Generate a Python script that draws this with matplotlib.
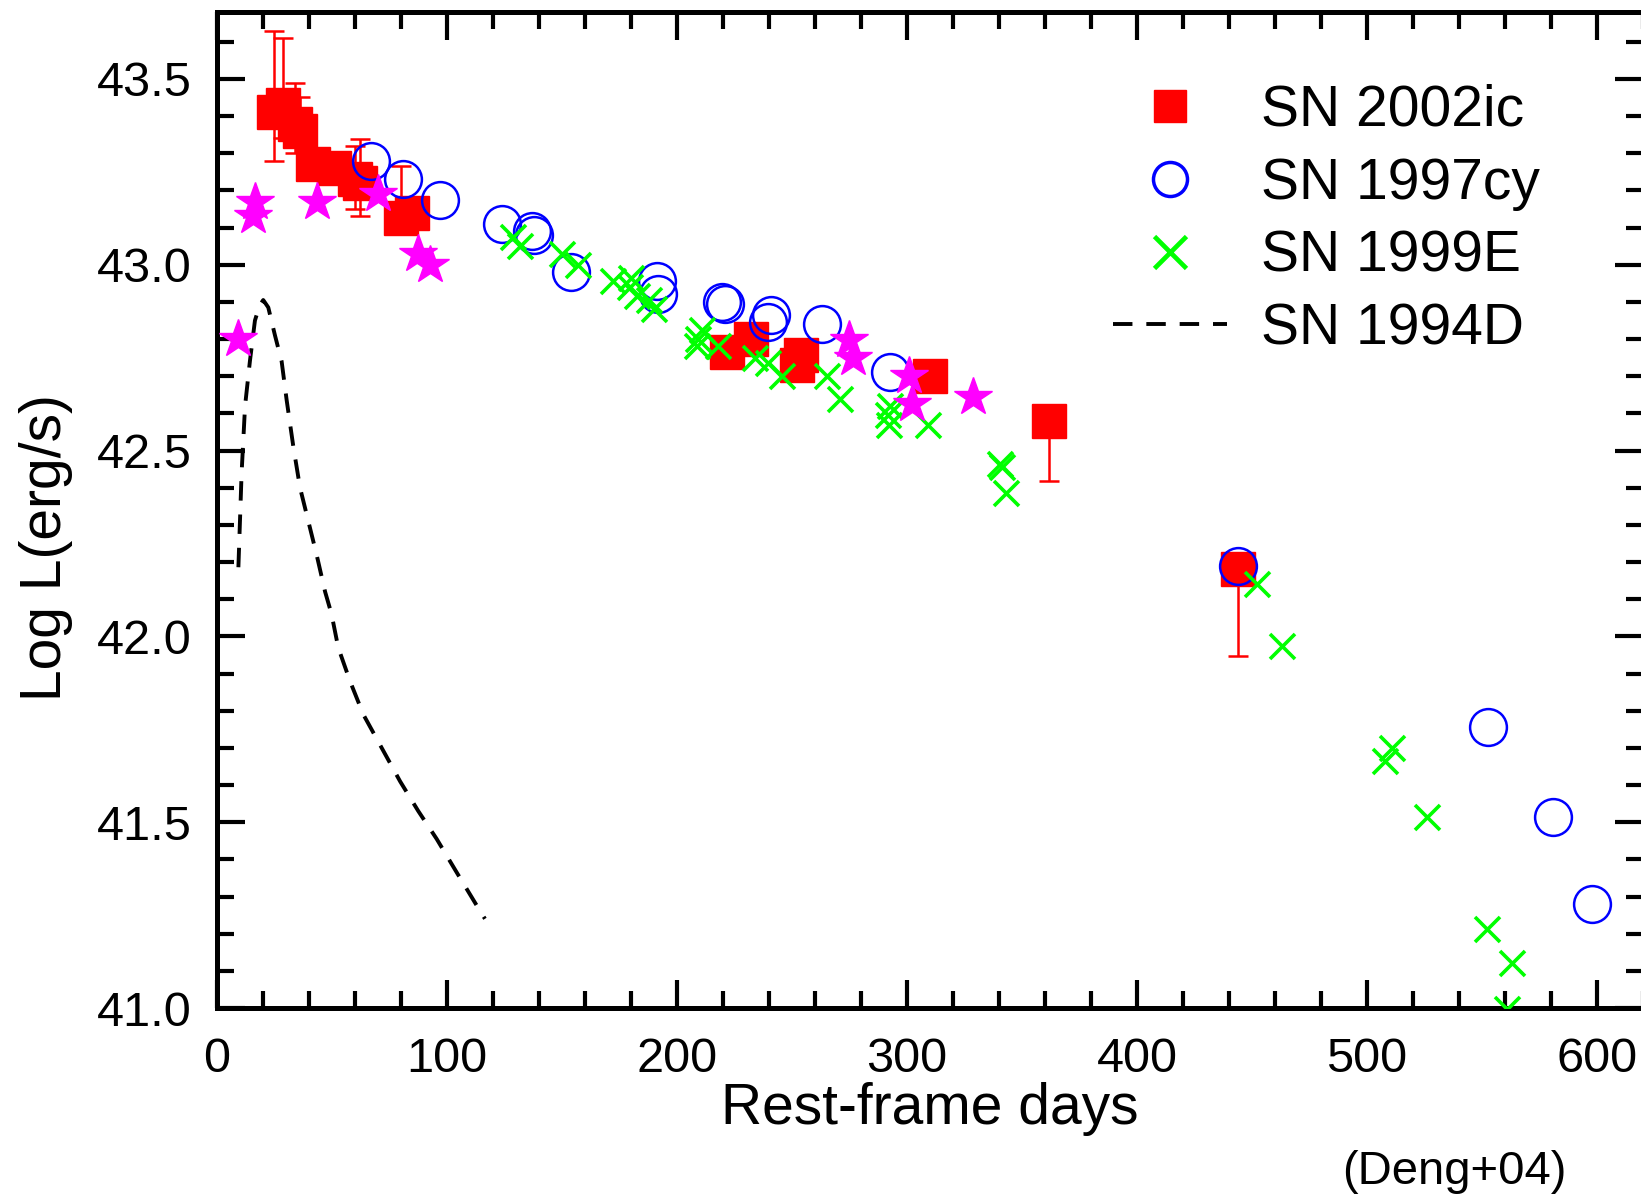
import matplotlib
matplotlib.use("Agg")
import matplotlib.pyplot as plt
from matplotlib.lines import Line2D
from matplotlib.ticker import MultipleLocator, FormatStrFormatter
import numpy as np

plt.rcParams['font.family'] = ['Liberation Sans', 'DejaVu Sans']
plt.rcParams['lines.scale_dashes'] = False

# SN 2002ic (red squares)
days_02ic = [24.8, 28.8, 34.0, 36.0, 41.8, 50.9, 60.0, 62.2, 80.0, 84.8,
             221.6, 232.0, 254.0, 252.0, 310.0, 361.7, 444.0]
logl_02ic = [43.41, 43.43, 43.378, 43.36, 43.27, 43.26, 43.23, 43.22, 43.125, 43.14,
             42.765, 42.80, 42.757, 42.73, 42.70, 42.58, 42.18]
# error bars on some of the SN 2002ic points: day, value, low end, high end
err_days = [24.8, 28.8, 34.0, 36.0, 60.0, 62.2, 80.0, 361.7, 444.0]
err_vals = [43.41, 43.43, 43.378, 43.36, 43.23, 43.22, 43.125, 42.58, 42.18]
err_low = [43.28, 43.34, 43.30, 43.33, 43.15, 43.13, 43.10, 42.417, 41.947]
err_high = [43.63, 43.61, 43.49, 43.45, 43.32, 43.337, 43.265, 42.60, 42.20]

# SN 1997cy (blue open circles)
days_97cy = [67, 81, 97, 124, 137, 138, 154, 191.5, 191.7, 219.5, 221, 241, 239.6,
             263, 292.6, 444, 552.6, 581, 598]
logl_97cy = [43.28, 43.23, 43.175, 43.11, 43.09, 43.08, 42.98, 42.955, 42.92, 42.90,
             42.895, 42.865, 42.845, 42.84, 42.71, 42.19, 41.755, 41.515, 41.28]

# SN 1999E (green crosses)
days_99e = [128.7, 131.7, 150, 157, 172, 179.6, 180, 182.5, 188, 190,
            211, 209, 208.5, 218, 234, 239.7, 245.6, 265, 271,
            292.6, 291.7, 292, 309, 340.4, 341.2, 343, 452, 463,
            511, 508, 526, 552, 563, 561]
logl_99e = [43.075, 43.05, 43.03, 43.0, 42.955, 42.94, 42.965, 42.915, 42.905, 42.88,
            42.825, 42.80, 42.78, 42.78, 42.75, 42.735, 42.70, 42.70, 42.64,
            42.62, 42.595, 42.57, 42.57, 42.465, 42.455, 42.385, 42.14, 41.975,
            41.70, 41.665, 41.515, 41.213, 41.12, 40.998]

# unlabelled magenta stars
days_star = [9.3, 16.5, 15.7, 43.5, 70, 87.4, 92.6, 274.8, 276.6, 301, 302, 328.8]
logl_star = [42.80, 43.17, 43.13, 43.17, 43.19, 43.03, 43.0, 42.797, 42.75, 42.70,
             42.625, 42.645]

# SN 1994D (dashed curve)
days_94d = [9.3, 10.7, 12.2, 14.3, 16.5, 18.5, 20.1, 22.3, 25.2, 28.1, 30.3, 33.2,
            36.1, 39.7, 43.3, 47.0, 49.8, 52.7, 57.8, 63.6, 71.6, 79.6, 87.5,
            95.5, 104.2, 112.9, 116.5]
logl_94d = [42.186, 42.44, 42.62, 42.74, 42.85, 42.89, 42.905, 42.885, 42.81, 42.74,
            42.635, 42.51, 42.40, 42.31, 42.22, 42.12, 42.06, 41.97, 41.88, 41.79,
            41.70, 41.61, 41.53, 41.455, 41.365, 41.276, 41.24]

red = '#ff0000'
blue = '#0000ff'
green = '#00ff00'
magenta = '#ff00ff'
dash = (0, (14, 10))

fig = plt.figure(figsize=(16.41, 11.95), dpi=100)
ax = fig.add_axes([217 / 1641, 1 - 1008 / 1195, 1426 / 1641, 996 / 1195])

ax.plot(days_94d, logl_94d, color='black', lw=2.8, linestyle=dash, zorder=2)

ev = np.array(err_vals)
yerr = [ev - np.array(err_low), np.array(err_high) - ev]
ax.errorbar(err_days, err_vals, yerr=yerr, fmt='none', ecolor=red, elinewidth=1.8,
            capsize=7, capthick=1.8, zorder=3)
ax.plot(days_02ic, logl_02ic, 's', color=red, ms=24.5, mec=red, zorder=4)
ax.plot(days_97cy, logl_97cy, 'o', mfc='none', mec=blue, ms=26.5, mew=1.8, zorder=5)
ax.plot(days_99e, logl_99e, 'x', color=green, ms=18, mew=2.6, zorder=6)
ax.plot(days_star, logl_star, '*', color=magenta, ms=29, mec=magenta, zorder=7)

ax.set_xlim(0, 620)
ax.set_ylim(41.0, 43.68)
ax.xaxis.set_major_locator(MultipleLocator(100))
ax.xaxis.set_minor_locator(MultipleLocator(20))
ax.yaxis.set_major_locator(MultipleLocator(0.5))
ax.yaxis.set_minor_locator(MultipleLocator(0.1))
ax.yaxis.set_major_formatter(FormatStrFormatter('%.1f'))

ax.tick_params(which='both', direction='in', top=True, right=True, width=3, labelsize=35)
ax.tick_params(which='major', length=20)
ax.tick_params(which='minor', length=12)
ax.tick_params(axis='x', pad=21)
ax.tick_params(axis='y', pad=18)
for sp in ax.spines.values():
    sp.set_linewidth(3.6)

ax.set_xlabel('Rest-frame days', fontsize=41, labelpad=0)
ax.set_ylabel('Log L(erg/s)', fontsize=41)
ax.yaxis.set_label_coords(-0.101, 0.462)

handles = [
    Line2D([], [], ls='none', marker='s', color=red, ms=23),
    Line2D([], [], ls='none', marker='o', mfc='none', mec=blue, ms=24.5, mew=2.5),
    Line2D([], [], ls='none', marker='x', color=green, ms=23, mew=3.4),
    Line2D([], [], color='black', lw=2.8, linestyle=dash),
]
labels = ['SN 2002ic', 'SN 1997cy', 'SN 1999E', 'SN 1994D']
fig.legend(handles, labels, loc='upper left', bbox_to_anchor=(1113 / 1641, 1 - 84 / 1195),
           frameon=False, fontsize=41, handlelength=2.0, handletextpad=0.6,
           labelspacing=0.33, borderpad=0, borderaxespad=0)

fig.text(1454 / 1641, 1 - 1172 / 1195, '(Deng+04)', fontsize=34, ha='center', va='center')

fig.savefig('out.png', dpi=100)
